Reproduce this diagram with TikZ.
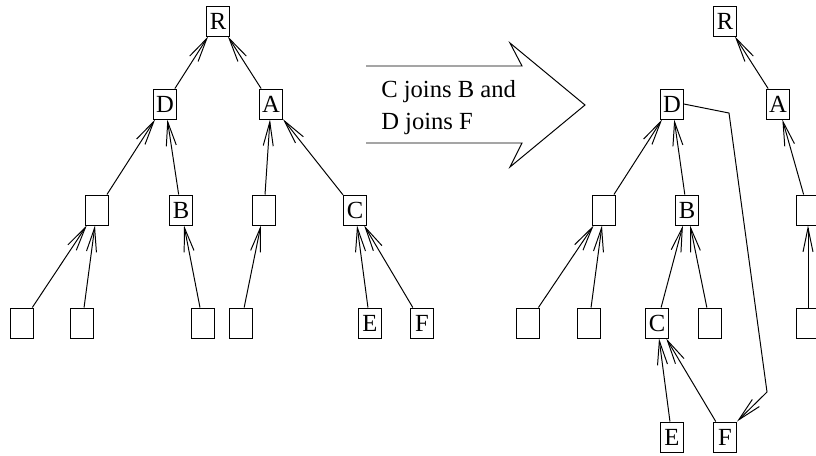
\documentclass[tikz,border=0pt]{standalone}
\usepackage{fontspec}
\setmainfont{Liberation Serif}
\usetikzlibrary{arrows.meta}
\usetikzlibrary{positioning}

\begin{document}
\begin{tikzpicture}[
x=0.025cm, y=-0.025cm,
font=\fontsize{17.5}{22.7}\selectfont,
boxnode/.style={rectangle, draw, line width=0.7pt, inner sep=0pt, minimum width=0.575cm, minimum height=0.75cm},
fan/.style={line width=0.7pt, -{Straight Barb[length=0.6cm, width=0.25cm, line width=0.7pt]}},
]
\useasboundingbox (0,0) rectangle (816,455);
\clip (0,0) rectangle (816,455);

%Nodes (before)
\node[boxnode]  at (218,21)    (left_r)      [] {R};
\node[boxnode]  at (165,104)   (left_d)      [] {D};
\node[boxnode]  at (271,104)   (left_a)      [] {A};

\node[boxnode]  at (97,210)    (left_u1)     [] {};
\node[boxnode]  at (181,210)   (left_b)      [] {B};
\node[boxnode]  at (264,210)   (left_u2)     [] {};
\node[boxnode]  at (355,210)   (left_c)      [] {C};

\node[boxnode]  at (22,323)    (left_l1)     [] {};
\node[boxnode]  at (82,323)    (left_l2)     [] {};
\node[boxnode]  at (203,323)   (left_l3)     [] {};
\node[boxnode]  at (241,323)   (left_l4)     [] {};
\node[boxnode]  at (370,323)   (left_e)      [] {E};
\node[boxnode]  at (422,323)   (left_f)      [] {F};

%Nodes (after)
\node[boxnode]  at (725,21)    (right_r)     [] {R};
\node[boxnode]  at (672,104)   (right_d)     [] {D};
\node[boxnode]  at (778,104)   (right_a)     [] {A};

\node[boxnode]  at (604,210)   (right_u1)    [] {};
\node[boxnode]  at (687,210)   (right_b)     [] {B};
\node[boxnode]  at (808,210)   (right_u2)    [] {};

\node[boxnode]  at (528,323)   (right_l1)    [] {};
\node[boxnode]  at (589,323)   (right_l2)    [] {};
\node[boxnode]  at (657,323)   (right_c)     [] {C};
\node[boxnode]  at (710,323)   (right_l3)    [] {};
\node[boxnode]  at (808,323)   (right_l4)    [] {};

\node[boxnode]  at (672,437)   (right_e)     [] {E};
\node[boxnode]  at (725,437)   (right_f)     [] {F};

\coordinate (bend_top) at (729,113);
\coordinate (bend_low) at (767,392);

%Big arrow with its label
\draw[line width=0.7pt, line join=miter] (366,66) -- (522,66) -- (510,43) -- (585,105) -- (510,167) -- (522,143) -- (366,143);
\node[anchor=north west, align=left, inner sep=0pt] at (381,80) (caption) {C joins B and\\D joins F};

%Lines (before)
\draw[fan] (left_d) -- (left_r);
\draw[fan] (left_a) -- (left_r);
\draw[fan] (left_u1) -- (left_d);
\draw[fan] (left_b) -- (left_d);
\draw[fan] (left_u2) -- (left_a);
\draw[fan] (left_c) -- (left_a);
\draw[fan] (left_l1) -- (left_u1);
\draw[fan] (left_l2) -- (left_u1);
\draw[fan] (left_l3) -- (left_b);
\draw[fan] (left_l4) -- (left_u2);
\draw[fan] (left_e) -- (left_c);
\draw[fan] (left_f) -- (left_c);

%Lines (after)
\draw[fan] (right_a) -- (right_r);
\draw[fan] (right_u1) -- (right_d);
\draw[fan] (right_b) -- (right_d);
\draw[fan] (right_u2) -- (right_a);
\draw[fan] (right_l1) -- (right_u1);
\draw[fan] (right_l2) -- (right_u1);
\draw[fan] (right_c) -- (right_b);
\draw[fan] (right_l3) -- (right_b);
\draw[fan] (right_l4) -- (right_u2);
\draw[fan] (right_e) -- (right_c);
\draw[fan] (right_f) -- (right_c);
\draw[fan] (right_d.east) -- (bend_top) -- (bend_low) -- (right_f.north east);

\end{tikzpicture}
\end{document}
